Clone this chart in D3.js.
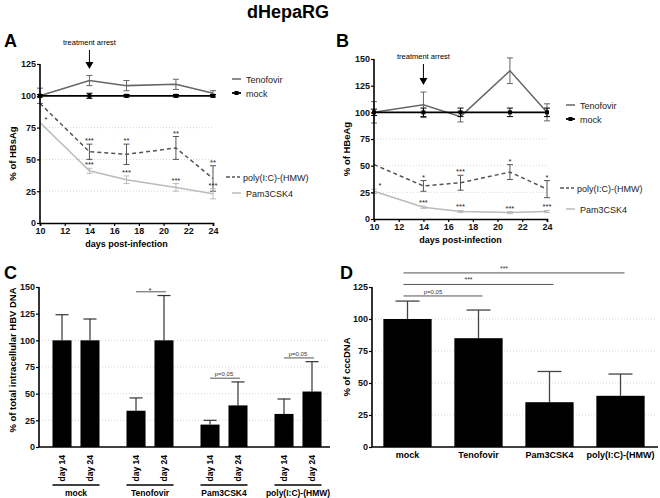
<!DOCTYPE html>
<html lang="en">
<head>
<meta charset="UTF-8">
<title>dHepaRG</title>
<script src="https://cdn.jsdelivr.net/npm/d3@7"></script>
<style>
  body { margin: 0; background: #fff; }
  text { font-family: "Liberation Sans", Arial, sans-serif; }
</style>
</head>
<body>
<script>
// ---- data ----
var days = [10, 14, 17, 21, 24];
var dayTicks = [10, 12, 14, 16, 18, 20, 22, 24];
var seriesNames = ["Tenofovir", "mock", "poly(I:C)-(HMW)", "Pam3CSK4"];

// A: % of HBsAg
var hbsTeno = [100, 112, 108, 109, 102];
var hbsTenoErr = [6, 4, 4, 4, 2];
var hbsMock = [100, 100, 100, 100, 100];
var hbsMockErr = [1, 2, 1, 1, 1];
var hbsPoly = [94, 56, 54, 59, 35];
var hbsPolyErr = [0, 6, 8, 9, 10];
var hbsPam = [79, 41, 34, 28, 23];
var hbsPamErr = [0, 2, 3, 3, 4];
var hbsPolyStars = ["", "***", "**", "**", "**"];
var hbsPamStars = ["*", "***", "***", "***", "***"];

// B: % of HBeAg
var hbeTeno = [100, 107, 96, 139, 100];
var hbeTenoErr = [10, 12, 5, 12, 8];
var hbeMock = [100, 100, 100, 100, 100];
var hbeMockErr = [3, 4, 4, 4, 4];
var hbePoly = [51, 31, 34, 44, 28];
var hbePolyErr = [0, 5, 7, 7, 8];
var hbePam = [26, 11, 7, 6, 7];
var hbePamErr = [2, 1, 1, 1, 1];
var hbePolyStars = ["", "*", "***", "*", "*"];
var hbePamStars = ["*", "***", "***", "***", "***"];

// C: % of total intracellular HBV DNA
var groups = ["mock", "Tenofovir", "Pam3CSK4", "poly(I:C)-(HMW)"];
var dnaDays = ["day 14", "day 24"];
var dnaD14 = [100, 34, 21, 31];
var dnaD14Err = [24, 12, 4, 14];
var dnaD24 = [100, 100, 39, 52];
var dnaD24Err = [20, 42, 22, 28];
var dnaSig = ["", "*", "p=0,05", "p=0,05"];

// D: % of cccDNA
var ccc = [100, 85, 35, 40];
var cccErr = [14, 22, 24, 17];
var cccCompare = ["Tenofovir", "Pam3CSK4", "poly(I:C)-(HMW)"];
var cccCompareLabel = ["p=0,05", "***", "***"];

var W = 660, H = 498;
var svg = d3.select("body").append("svg").attr("width", W).attr("height", H);

svg.append("text").text("dHepaRG").attr("x", 288).attr("y", 18)
  .attr("text-anchor", "middle").attr("font-size", 18).attr("font-weight", "bold");

function panelLetter(t, x, y) {
  svg.append("text").text(t).attr("x", x).attr("y", y)
    .attr("font-size", 18).attr("font-weight", "bold");
}
panelLetter("A", 4, 47);
panelLetter("B", 336, 47);
panelLetter("C", 4, 279);
panelLetter("D", 340, 279);

function yAxis(g, y, x0, ticks) {
  var ax = g.append("g").attr("transform", "translate(" + x0 + ",0)")
    .call(d3.axisLeft(y).tickValues(ticks).tickSize(3).tickPadding(1));
  ax.select(".domain").attr("stroke-width", 1.6).attr("d", "M0," + y.range()[0] + "V" + y.range()[1]);
  ax.selectAll(".tick line").attr("stroke-width", 1.2);
  ax.selectAll("text").attr("font-size", 9).attr("font-weight", "bold").attr("fill", "#111");
  return ax;
}

function grid(g, y, x1, x2, vals) {
  g.selectAll(null).data(vals).enter().append("line")
    .attr("x1", x1).attr("x2", x2)
    .attr("y1", function (d) { return y(d); }).attr("y2", function (d) { return y(d); })
    .attr("stroke", "#ccc").attr("stroke-width", 0.8).attr("stroke-dasharray", "1,2");
}

function linePanel(o) {
  var g = svg.append("g");
  var x = d3.scaleLinear().domain([10, 24]).range(o.xr);
  var y = d3.scaleLinear().domain([0, o.ymax]).range(o.yr);
  grid(g, y, o.xr[0], o.xr[1], [25, 50, 75]);

  var line = d3.line().x(function (d) { return x(d[0]); }).y(function (d) { return y(d[1]); });
  o.series.forEach(function (s) {
    var pts = days.map(function (d, i) { return [d, s.v[i], s.e[i]]; });
    g.append("path").datum(pts).attr("d", line).attr("fill", "none")
      .attr("stroke", s.color).attr("stroke-width", s.w)
      .attr("stroke-dasharray", s.dash || null);
    var eb = g.selectAll(null).data(pts.filter(function (p) { return p[2] > 0; })).enter().append("g")
      .attr("stroke", s.color).attr("stroke-width", 1);
    eb.append("line").attr("x1", function (p) { return x(p[0]); }).attr("x2", function (p) { return x(p[0]); })
      .attr("y1", function (p) { return y(p[1] - p[2]); }).attr("y2", function (p) { return y(p[1] + p[2]); });
    [-1, 1].forEach(function (sgn) {
      eb.append("line").attr("x1", function (p) { return x(p[0]) - 3; }).attr("x2", function (p) { return x(p[0]) + 3; })
        .attr("y1", function (p) { return y(p[1] + sgn * p[2]); }).attr("y2", function (p) { return y(p[1] + sgn * p[2]); });
    });
    if (s.marker) {
      g.selectAll(null).data(pts).enter().append("rect")
        .attr("x", function (p) { return x(p[0]) - 2; }).attr("y", function (p) { return y(p[1]) - 2; })
        .attr("width", 4).attr("height", 4).attr("fill", s.color);
    }
    if (s.stars) {
      g.selectAll(null).data(pts).enter().append("text")
        .text(function (p, i) { return s.stars[i]; })
        .attr("x", function (p) { return x(p[0]) + (p[0] === 10 ? 6 : 0); })
        .attr("y", function (p) { return y(p[1] + p[2]) - 1; })
        .attr("text-anchor", "middle").attr("font-size", 7.5).attr("fill", "#222");
    }
  });

  yAxis(g, y, o.xr[0], d3.range(0, o.ymax + 1, 25));
  var xa = g.append("g").attr("transform", "translate(0," + o.yr[0] + ")")
    .call(d3.axisBottom(x).tickValues(dayTicks).tickSize(3).tickPadding(2));
  xa.select(".domain").attr("stroke-width", 1.6);
  xa.selectAll(".tick line").attr("stroke-width", 1.2);
  xa.selectAll("text").attr("font-size", 9).attr("font-weight", "bold").attr("fill", "#111");

  g.append("text").text("days post-infection")
    .attr("x", (o.xr[0] + o.xr[1]) / 2).attr("y", o.yr[0] + 24)
    .attr("text-anchor", "middle").attr("font-size", 9).attr("font-weight", "bold");
  g.append("text").text(o.ylabel)
    .attr("transform", "translate(" + (o.xr[0] - 24) + "," + ((o.yr[0] + o.yr[1]) / 2 + 10) + ") rotate(-90)")
    .attr("text-anchor", "middle").attr("font-size", 9.5).attr("font-weight", "bold");

  // treatment arrest
  var ax = x(14);
  g.append("text").text("treatment arrest").attr("x", ax).attr("y", o.arrowY[0] - 5)
    .attr("text-anchor", "middle").attr("font-size", 7.5);
  g.append("line").attr("x1", ax).attr("x2", ax).attr("y1", o.arrowY[0]).attr("y2", o.arrowY[1] - 6)
    .attr("stroke", "#000").attr("stroke-width", 1);
  g.append("path").attr("d", "M" + (ax - 4) + "," + (o.arrowY[1] - 7) + "L" + (ax + 4) + "," + (o.arrowY[1] - 7) + "L" + ax + "," + o.arrowY[1] + "Z")
    .attr("fill", "#000");

  // legend
  o.series.forEach(function (s, i) {
    var ly = o.legendY[i], lx = o.xr[1] + 19;
    g.append("line").attr("x1", lx).attr("x2", lx + 9).attr("y1", ly).attr("y2", ly)
      .attr("stroke", s.color).attr("stroke-width", s.w).attr("stroke-dasharray", s.dash ? "3,2" : null);
    if (s.dash) g.append("line").attr("x1", lx - 6).attr("x2", lx - 2).attr("y1", ly).attr("y2", ly)
      .attr("stroke", s.color).attr("stroke-width", s.w);
    if (s.marker) g.append("rect").attr("x", lx + 2.5).attr("y", ly - 2).attr("width", 4).attr("height", 4).attr("fill", s.color);
    g.append("text").text(s.name).attr("x", lx + (s.dash ? 11 : 14)).attr("y", ly + 3.5)
      .attr("font-size", 9).attr("fill", "#222");
  });
}

linePanel({
  xr: [40, 213], yr: [223, 64], ymax: 125, ylabel: "% of HBsAg", arrowY: [50, 69],
  legendY: [79, 93, 177, 193],
  series: [
    { name: seriesNames[0], v: hbsTeno, e: hbsTenoErr, color: "#666", w: 1.5 },
    { name: seriesNames[1], v: hbsMock, e: hbsMockErr, color: "#000", w: 1.8, marker: true },
    { name: seriesNames[2], v: hbsPoly, e: hbsPolyErr, color: "#555", w: 1.5, dash: "4,3", stars: hbsPolyStars },
    { name: seriesNames[3], v: hbsPam, e: hbsPamErr, color: "#bbb", w: 1.5, stars: hbsPamStars }
  ]
});

linePanel({
  xr: [374, 547], yr: [219, 59], ymax: 150, ylabel: "% of HBeAg", arrowY: [64, 85],
  legendY: [105, 119, 188, 209],
  series: [
    { name: seriesNames[0], v: hbeTeno, e: hbeTenoErr, color: "#666", w: 1.5 },
    { name: seriesNames[1], v: hbeMock, e: hbeMockErr, color: "#000", w: 1.8, marker: true },
    { name: seriesNames[2], v: hbePoly, e: hbePolyErr, color: "#555", w: 1.5, dash: "4,3", stars: hbePolyStars },
    { name: seriesNames[3], v: hbePam, e: hbePamErr, color: "#bbb", w: 1.5, stars: hbePamStars }
  ]
});

// ---- panel C ----
(function () {
  var g = svg.append("g");
  var y = d3.scaleLinear().domain([0, 150]).range([447, 287]);
  var x0 = d3.scaleBand().domain(groups).range([39, 335]);
  var x1 = d3.scaleBand().domain(dnaDays).range([13.5, 60.5]).paddingInner(0.32).paddingOuter(0);
  grid(g, y, 39, 330, [25, 50, 75, 100]);

  var rows = [];
  groups.forEach(function (gr, i) {
    rows.push({ g: gr, d: dnaDays[0], v: dnaD14[i], e: dnaD14Err[i] });
    rows.push({ g: gr, d: dnaDays[1], v: dnaD24[i], e: dnaD24Err[i] });
  });
  function cx(r) { return x0(r.g) + x1(r.d) + x1.bandwidth() / 2; }

  g.selectAll(null).data(rows).enter().append("line")
    .attr("x1", cx).attr("x2", cx)
    .attr("y1", function (r) { return y(r.v); }).attr("y2", function (r) { return y(r.v + r.e); })
    .attr("stroke", "#333").attr("stroke-width", 1.2);
  g.selectAll(null).data(rows).enter().append("line")
    .attr("x1", function (r) { return cx(r) - 6.5; }).attr("x2", function (r) { return cx(r) + 6.5; })
    .attr("y1", function (r) { return y(r.v + r.e); }).attr("y2", function (r) { return y(r.v + r.e); })
    .attr("stroke", "#333").attr("stroke-width", 1.2);
  g.selectAll(null).data(rows).enter().append("rect")
    .attr("x", function (r) { return x0(r.g) + x1(r.d); }).attr("width", x1.bandwidth())
    .attr("y", function (r) { return y(r.v); }).attr("height", function (r) { return y(0) - y(r.v); })
    .attr("fill", "#000");

  // significance brackets
  groups.forEach(function (gr, i) {
    if (!dnaSig[i]) return;
    var top = Math.max(dnaD14[i] + dnaD14Err[i], dnaD24[i] + dnaD24Err[i]) + 3.5;
    var a = x0(gr) + x1(dnaDays[0]) + x1.bandwidth() / 2, b = x0(gr) + x1(dnaDays[1]) + x1.bandwidth() / 2;
    g.append("line").attr("x1", a).attr("x2", b + 2).attr("y1", y(top)).attr("y2", y(top))
      .attr("stroke", "#555").attr("stroke-width", 1);
    g.append("text").text(dnaSig[i]).attr("x", (a + b) / 2).attr("y", y(top) - (dnaSig[i] === "*" ? -1 : 2))
      .attr("text-anchor", "middle").attr("font-size", dnaSig[i] === "*" ? 8 : 6).attr("fill", "#333");
  });

  yAxis(g, y, 39, d3.range(0, 151, 25));
  g.append("line").attr("x1", 39).attr("x2", 330).attr("y1", 447).attr("y2", 447)
    .attr("stroke", "#000").attr("stroke-width", 1.6);

  g.selectAll(null).data(rows).enter().append("text").text(function (r) { return r.d; })
    .attr("transform", function (r) { return "translate(" + (cx(r) + 3) + ",455) rotate(-90)"; })
    .attr("text-anchor", "end").attr("font-size", 8.5).attr("font-weight", "bold");
  groups.forEach(function (gr) {
    g.append("line").attr("x1", x0(gr) + x1(dnaDays[0])).attr("x2", x0(gr) + x1(dnaDays[1]) + x1.bandwidth())
      .attr("y1", 485).attr("y2", 485).attr("stroke", "#000").attr("stroke-width", 1.3);
    g.append("text").text(gr).attr("x", x0(gr) + x0.bandwidth() / 2).attr("y", 496)
      .attr("text-anchor", "middle").attr("font-size", 8.5).attr("font-weight", "bold");
  });
  g.append("text").text("% of total intracellular HBV DNA")
    .attr("transform", "translate(16,360) rotate(-90)")
    .attr("text-anchor", "middle").attr("font-size", 9.5).attr("font-weight", "bold");
})();

// ---- panel D ----
(function () {
  var g = svg.append("g");
  var y = d3.scaleLinear().domain([0, 125]).range([447, 287]);
  var x = d3.scaleBand().domain(groups).range([372, 656]).paddingInner(0.32).paddingOuter(0.16);
  grid(g, y, 372, 656, [25, 50, 75, 100]);
  var rows = groups.map(function (gr, i) { return { g: gr, v: ccc[i], e: cccErr[i] }; });
  function cx(r) { return x(r.g) + x.bandwidth() / 2; }

  g.selectAll(null).data(rows).enter().append("line")
    .attr("x1", cx).attr("x2", cx)
    .attr("y1", function (r) { return y(r.v); }).attr("y2", function (r) { return y(r.v + r.e); })
    .attr("stroke", "#444").attr("stroke-width", 1.3);
  g.selectAll(null).data(rows).enter().append("line")
    .attr("x1", function (r) { return cx(r) - 12; }).attr("x2", function (r) { return cx(r) + 12; })
    .attr("y1", function (r) { return y(r.v + r.e); }).attr("y2", function (r) { return y(r.v + r.e); })
    .attr("stroke", "#444").attr("stroke-width", 1.3);
  g.selectAll(null).data(rows).enter().append("rect")
    .attr("x", function (r) { return x(r.g); }).attr("width", x.bandwidth())
    .attr("y", function (r) { return y(r.v); }).attr("height", function (r) { return y(0) - y(r.v); })
    .attr("fill", "#000");

  var start = x("mock") + x.bandwidth() / 2 - 4;
  cccCompare.forEach(function (gr, i) {
    var lev = 118 + 9 * i;
    var end = x(gr) + x.bandwidth() / 2 + 4;
    g.append("line").attr("x1", start).attr("x2", end).attr("y1", y(lev)).attr("y2", y(lev))
      .attr("stroke", "#555").attr("stroke-width", 1);
    g.append("text").text(cccCompareLabel[i]).attr("x", (start + end) / 2 - 10).attr("y", y(lev) - 2)
      .attr("text-anchor", "middle").attr("font-size", cccCompareLabel[i] === "***" ? 7 : 6).attr("fill", "#333");
  });

  yAxis(g, y, 372, d3.range(0, 126, 25));
  g.append("line").attr("x1", 372).attr("x2", 658).attr("y1", 447).attr("y2", 447)
    .attr("stroke", "#000").attr("stroke-width", 1.6);
  g.selectAll(null).data(rows).enter().append("text").text(function (r) { return r.g; })
    .attr("x", cx).attr("y", 458).attr("text-anchor", "middle")
    .attr("font-size", 9).attr("font-weight", "bold");
  g.append("text").text("% of cccDNA")
    .attr("transform", "translate(350,367) rotate(-90)")
    .attr("text-anchor", "middle").attr("font-size", 9.5).attr("font-weight", "bold");
})();
</script>
</body>
</html>
